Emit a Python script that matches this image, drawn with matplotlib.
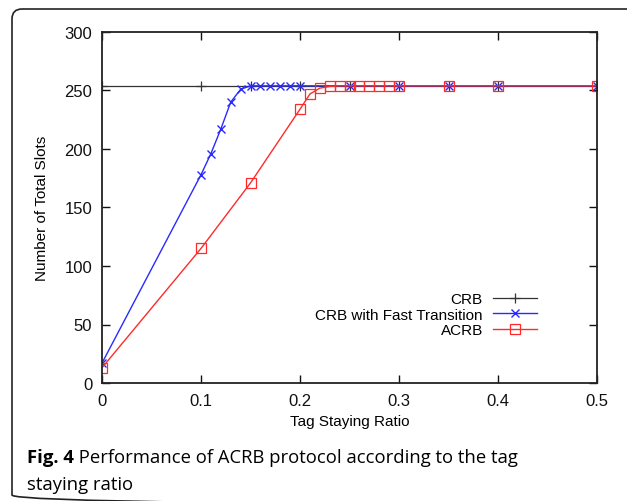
import matplotlib
matplotlib.use("Agg")
import matplotlib.pyplot as plt
from matplotlib.patches import FancyBboxPatch

# ---- data ----
crb_x = [0, 0.1, 0.15, 0.2, 0.25, 0.3, 0.35, 0.4, 0.5]
crb_y = [254, 254, 254, 254, 254, 254, 254, 254, 254]

fast_x = [0, 0.1, 0.11, 0.12, 0.13, 0.14, 0.15, 0.16, 0.17, 0.18, 0.19, 0.2,
          0.25, 0.3, 0.35, 0.4, 0.5]
fast_y = [17, 178, 196, 217, 240, 251, 254, 254, 254, 254, 254, 254,
          254, 254, 254, 254, 254]

acrb_x = [0, 0.1, 0.15, 0.2, 0.21, 0.22, 0.23, 0.24, 0.25, 0.26, 0.27, 0.28,
          0.29, 0.3, 0.35, 0.4, 0.5]
acrb_y = [13, 115, 171, 234, 247, 252, 253.5, 254, 254, 254, 254, 254,
          254, 254, 254, 254, 254]

labels = ["CRB", "CRB with Fast Transition", "ACRB"]
x_ticks = [0, 0.1, 0.2, 0.3, 0.4, 0.5]
x_ticklabels = ["0", "0.1", "0.2", "0.3", "0.4", "0.5"]
y_ticks = [0, 50, 100, 150, 200, 250, 300]
xlabel = "Tag Staying Ratio"
ylabel = "Number of Total Slots"
cap_bold = "Fig. 4"
cap_rest = " Performance of ACRB protocol according to the tag"
cap_line2 = "staying ratio"

W, H = 627, 502
fig = plt.figure(figsize=(W / 100, H / 100), dpi=100)

# background frame (partial rounded box)
bg = fig.add_axes([0, 0, 1, 1], zorder=-1)
bg.set_xlim(0, W)
bg.set_ylim(H, 0)
bg.axis("off")
bg.add_patch(FancyBboxPatch((12, 10), 800, 496,
                            boxstyle="round,pad=0,rounding_size=10",
                            fill=False, edgecolor="#222222", linewidth=1.2,
                            clip_on=True))

left, right, top, bottom = 102, 597, 33, 384
ax = fig.add_axes([left / W, 1 - bottom / H, (right - left) / W, (bottom - top) / H])

font = "Liberation Sans"
ax.plot(crb_x, crb_y, color="#333333", lw=0.9, marker="+", ms=7, mew=0.9,
        label=labels[0])
ax.plot(fast_x, fast_y, color="#2a2aff", lw=1.0, marker="x", ms=6, mew=1.0,
        label=labels[1])
ax.plot(acrb_x, acrb_y, color="#ff2a2a", lw=1.0, marker="s", ms=7, mew=0.9,
        mfc="none", label=labels[2])

ax.set_xlim(0, 0.5)
ax.set_ylim(0, 300)
ax.set_xticks(x_ticks)
ax.set_xticklabels(x_ticklabels)
ax.set_yticks(y_ticks)
ax.tick_params(direction="in", length=6, width=1, top=True, right=True,
               labelsize=12, colors="#111111")
ax.tick_params(axis="x", pad=7)
ax.tick_params(axis="y", pad=7)
for lab in ax.get_xticklabels() + ax.get_yticklabels():
    lab.set_fontfamily(font)
for s in ax.spines.values():
    s.set_linewidth(1.3)
    s.set_color("#222222")

ax.set_xlabel(xlabel, fontsize=11, family=font)
ax.set_ylabel(ylabel, fontsize=11, family=font)
ax.xaxis.set_label_coords(0.5, -0.088)
ax.yaxis.set_label_coords(-0.107, 0.5)

leg = ax.legend(loc="upper right", bbox_to_anchor=(0.879, 0.258),
                markerfirst=False, frameon=False, borderaxespad=0, borderpad=0,
                labelspacing=0.08, handlelength=2.9, handletextpad=0.65,
                prop={"family": font, "size": 11})

# caption
cap_size = 13.3
t1 = bg.text(27, 463, cap_bold, fontsize=cap_size, fontweight="bold",
             family="Open Sans", va="baseline", ha="left")
bg.annotate(cap_rest, xy=(1, 0), xycoords=t1, fontsize=cap_size,
            family="Open Sans", va="bottom", ha="left")
bg.text(27, 490, cap_line2, fontsize=cap_size, family="Open Sans",
        va="baseline", ha="left")

fig.savefig("out.png", dpi=100)
